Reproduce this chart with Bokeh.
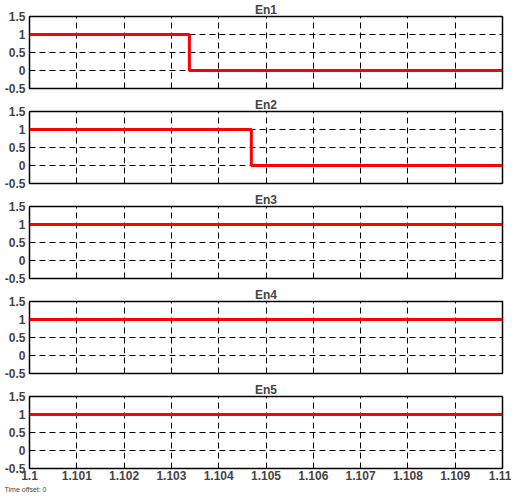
from bokeh.plotting import figure
from bokeh.layouts import column
from bokeh.models import FixedTicker, Range1d, Title
from bokeh.embed import file_html
from bokeh.resources import INLINE

# ---- data ----
titles = ["En1", "En2", "En3", "En4", "En5"]
en1_t = [1.1, 1.10338, 1.10338, 1.11]
en1_v = [1, 1, 0, 0]
en2_t = [1.1, 1.10469, 1.10469, 1.11]
en2_v = [1, 1, 0, 0]
en3_t = [1.1, 1.11]
en3_v = [1, 1]
en4_t = [1.1, 1.11]
en4_v = [1, 1]
en5_t = [1.1, 1.11]
en5_v = [1, 1]
series = [(en1_t, en1_v), (en2_t, en2_v), (en3_t, en3_v), (en4_t, en4_v), (en5_t, en5_v)]

x_ticks = [1.1, 1.101, 1.102, 1.103, 1.104, 1.105, 1.106, 1.107, 1.108, 1.109, 1.11]
x_labels = ["1.1", "1.101", "1.102", "1.103", "1.104", "1.105", "1.106", "1.107", "1.108", "1.109", "1.11"]
y_ticks = [-0.5, 0.0, 0.5, 1.0, 1.5]
y_labels = ["-0.5", "0", "0.5", "1", "1.5"]
x_start, x_end = 1.1, 1.11
y_start, y_end = -0.5, 1.5

FONT = "Liberation Sans"

figs = []
for i, (name, (t, v)) in enumerate(zip(titles, series)):
    last = (i == len(titles) - 1)
    p = figure(output_backend="svg", toolbar_location=None,
               frame_width=473, frame_height=72,
               x_range=Range1d(x_start, x_end), y_range=Range1d(y_start, y_end),
               min_border_left=29, min_border_right=9,
               min_border_top=0, min_border_bottom=7)
    p.title.text = name
    p.title.align = "center"
    p.title.text_font = FONT
    p.title.text_font_size = "12px"
    p.title.text_font_style = "bold"
    p.title.standoff = 0
    p.title.offset = 0

    p.line(t, v, line_color="#ff0000", line_width=3)

    p.outline_line_color = "black"
    p.outline_line_width = 1.5
    p.background_fill_color = "white"
    p.border_fill_color = "white"

    for g in (p.xgrid, p.ygrid):
        g.grid_line_color = "black"
        g.grid_line_width = 1
        g.grid_line_dash = "6 4"
    p.xgrid.ticker = FixedTicker(ticks=x_ticks)
    p.ygrid.ticker = FixedTicker(ticks=y_ticks)

    ya = p.yaxis[0]
    ya.ticker = FixedTicker(ticks=y_ticks)
    ya.major_label_overrides = dict(zip(y_ticks, y_labels))
    ya.axis_line_color = None
    ya.major_tick_out = 0
    ya.major_tick_in = 0
    ya.minor_tick_line_color = None
    ya.major_label_text_font = FONT
    ya.major_label_text_font_size = "12px"
    ya.major_label_text_font_style = "bold"
    ya.major_label_standoff = 4

    xa = p.xaxis[0]
    xa.ticker = FixedTicker(ticks=x_ticks)
    xa.major_label_overrides = dict(zip(x_ticks, x_labels))
    xa.axis_line_color = None
    xa.major_tick_out = 0
    xa.major_tick_in = 0
    xa.minor_tick_line_color = None
    xa.major_label_text_font = FONT
    xa.major_label_text_font_size = "12px"
    xa.major_label_text_font_style = "bold"
    xa.major_label_standoff = 2
    if not last:
        xa.visible = False
    else:
        p.min_border_bottom = 0
        p.add_layout(Title(text="Time offset:  0", text_font=FONT, text_font_size="7px",
                           text_font_style="normal", align="left", offset=-25,
                           standoff=2), "below")
    figs.append(p)

layout = column(*figs, spacing=0)
open("out.html", "w").write(file_html(layout, INLINE))
